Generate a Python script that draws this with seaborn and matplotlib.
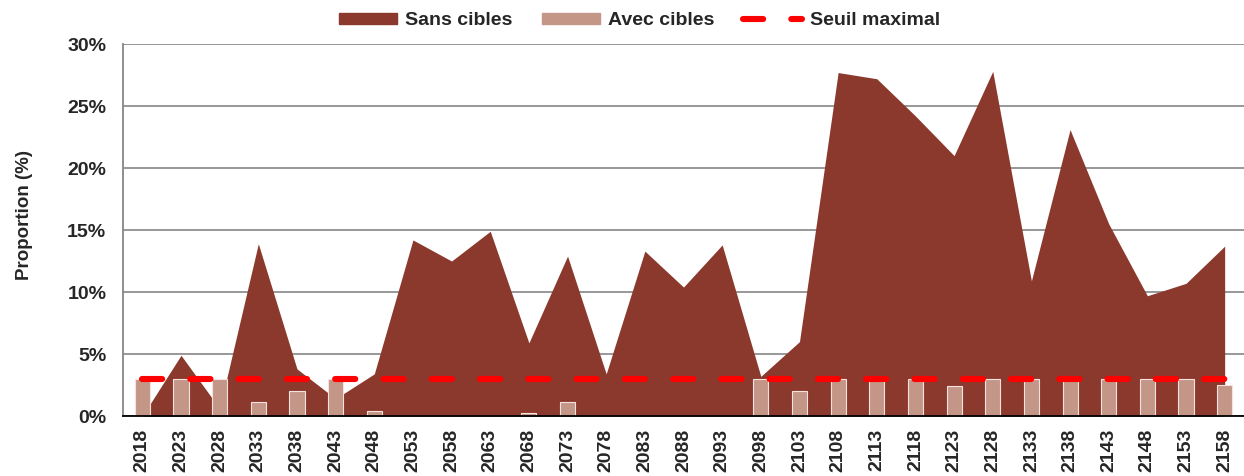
import numpy as np
import pandas as pd
import matplotlib.pyplot as plt
import matplotlib.patches as mpatches
import matplotlib.lines as mlines
from matplotlib.ticker import FixedLocator, FuncFormatter
import seaborn as sns

# data (values in %)
years = [2018, 2023, 2028, 2033, 2038, 2043, 2048, 2053, 2058, 2063,
         2068, 2073, 2078, 2083, 2088, 2093, 2098, 2103, 2108, 2113,
         2118, 2123, 2128, 2133, 2138, 2143, 2148, 2153, 2158]
sans_cibles = [0.0, 4.9, 0.6, 13.9, 3.8, 1.4, 3.4, 14.2, 12.5, 14.9,
               5.9, 12.9, 3.4, 13.3, 10.4, 13.8, 3.2, 6.0, 27.7, 27.2,
               24.2, 21.0, 27.8, 10.9, 23.1, 15.5, 9.7, 10.7, 13.7]
avec_cibles = [3.0, 3.0, 3.0, 1.1, 2.0, 3.0, 0.4, 0.0, 0.0, 0.0,
               0.25, 1.15, 0.0, 0.0, 0.0, 0.0, 3.0, 2.0, 3.0, 3.0,
               3.0, 2.4, 3.0, 3.0, 3.0, 3.0, 3.0, 3.0, 2.5]
seuil_maximal = 3.0

col_sans = "#8B392D"
col_avec = "#C49688"
col_seuil = "#FF0000"
col_grid = "#868686"

df = pd.DataFrame({"annee": [str(y) for y in years],
                   "sans": sans_cibles,
                   "avec": avec_cibles})
pos = np.arange(len(df))

sns.set_theme(style="white")
plt.rcParams["font.family"] = ["Liberation Sans", "DejaVu Sans"]
plt.rcParams["font.weight"] = "bold"

fig = plt.figure(figsize=(12.44, 4.76), dpi=100)
ax = fig.add_axes([0.0989, 0.126, 0.9011, 0.7815])

# area behind the bars
ax.fill_between(pos, df["sans"], 0, color=col_sans, linewidth=0, zorder=2)

# bars
sns.barplot(data=df, x="annee", y="avec", color=col_avec, saturation=1,
            width=0.39, edgecolor="#F3E2DD", linewidth=0.8, ax=ax, zorder=3)

# threshold line
sns.lineplot(x=pos, y=[seuil_maximal] * len(pos), color=col_seuil, ax=ax,
             linewidth=4.4, zorder=4)
thr = ax.get_lines()[-1]
thr.set_dashes((3.3, 4.6))
thr.set_dash_capstyle("round")

ax.set_xlim(-0.5, len(pos) - 0.5)
ax.set_ylim(0, 30)
ax.set_yticks(np.arange(0, 31, 5))
ax.yaxis.set_major_formatter(FuncFormatter(lambda v, p: f"{v:.0f}%"))
ax.grid(axis="y", color=col_grid, linewidth=1.2)
ax.set_axisbelow(True)

for s in ["top", "right"]:
    ax.spines[s].set_visible(False)
ax.spines["left"].set_color(col_grid)
ax.spines["left"].set_linewidth(1.3)
ax.spines["bottom"].set_color("black")
ax.spines["bottom"].set_linewidth(1.3)
ax.spines["bottom"].set_zorder(5)

ax.tick_params(axis="y", which="major", direction="out", length=5,
               color=col_grid, width=1.2, pad=7, labelsize=14)
ax.tick_params(axis="x", which="major", length=0, pad=9, labelsize=14,
               labelrotation=90)
ax.xaxis.set_minor_locator(FixedLocator(pos[1:] - 0.5))
ax.tick_params(axis="x", which="minor", direction="out", length=6,
               color=col_grid, width=1.2)
for lab in ax.get_xticklabels() + ax.get_yticklabels():
    lab.set_fontweight("bold")

ax.set_xlabel("")
ax.set_ylabel("Proportion (%)", fontsize=13.5, fontweight="bold")
ax.yaxis.set_label_coords(-0.080, 0.54)

handles = [
    mpatches.Patch(color=col_sans, label="Sans cibles"),
    mpatches.Patch(color=col_avec, label="Avec cibles"),
    mlines.Line2D([], [], color=col_seuil, linewidth=4.4,
                  dashes=(3.3, 4.6), dash_capstyle="round",
                  label="Seuil maximal"),
]
fig.legend(handles=handles, loc="center", bbox_to_anchor=(0.514, 0.957),
           ncol=3, frameon=False, prop={"size": 14, "weight": "bold"},
           handlelength=3.0, handleheight=0.5, handletextpad=0.4,
           columnspacing=1.5)

fig.savefig("out.png", dpi=100)
